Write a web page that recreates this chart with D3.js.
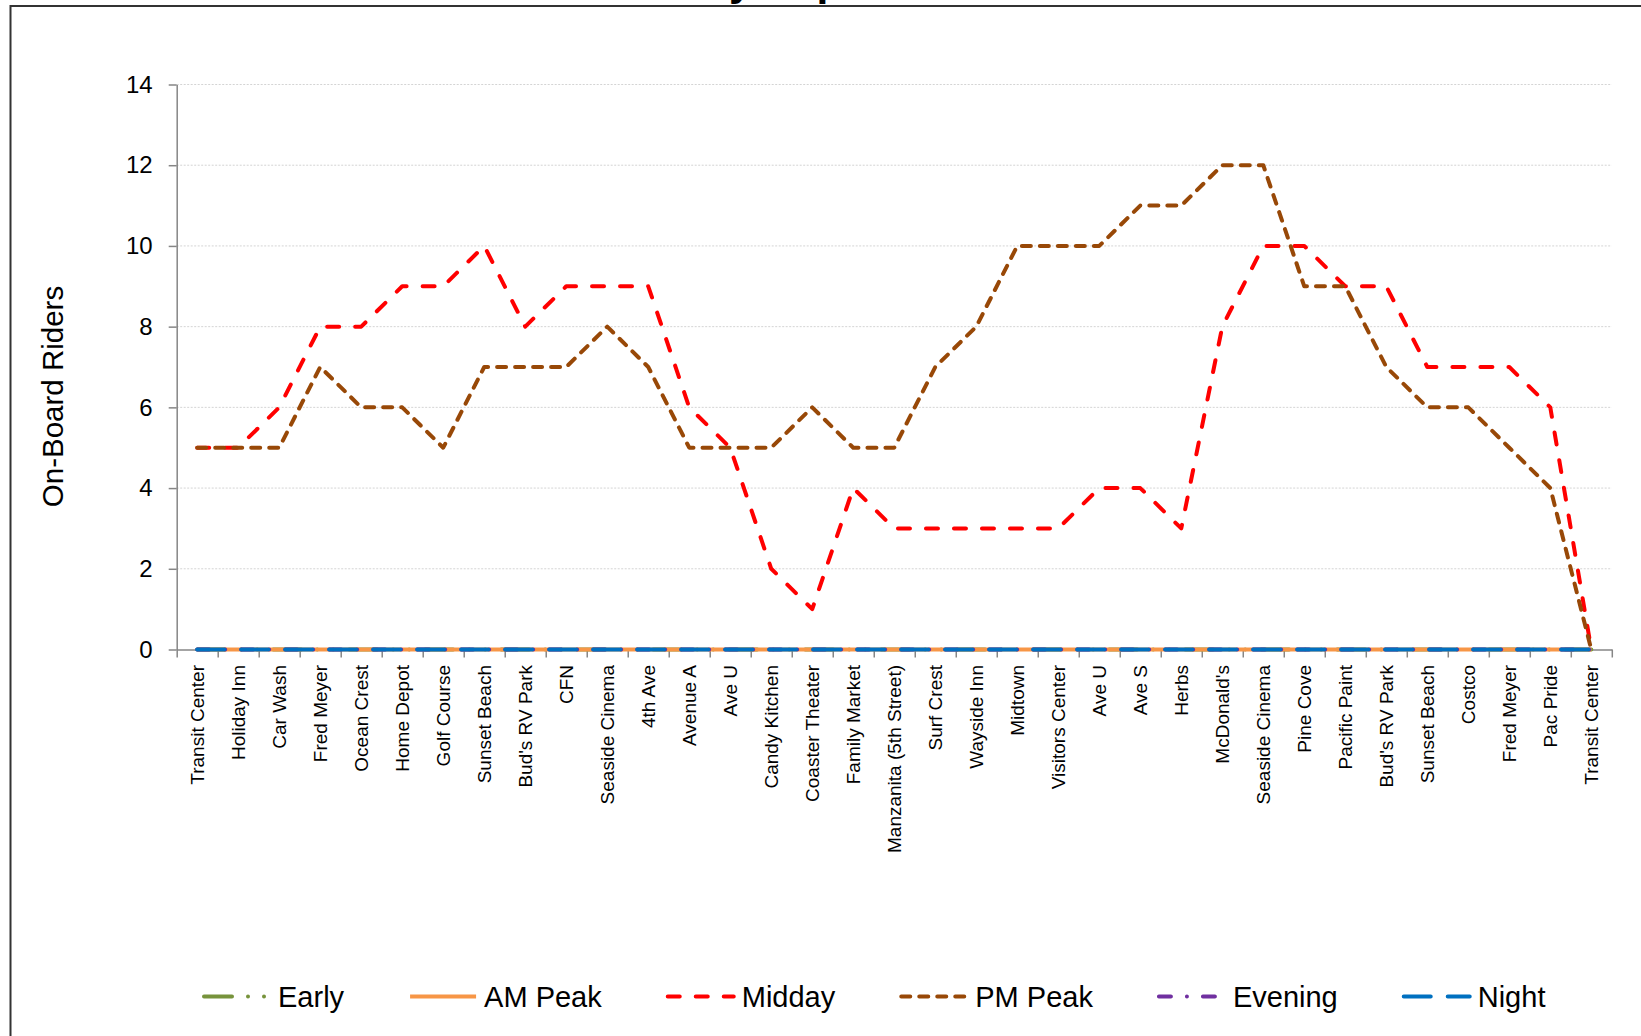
<!DOCTYPE html>
<html>
<head>
<meta charset="utf-8">
<script src="https://cdn.jsdelivr.net/npm/d3@7"></script>
<style>
  html, body { margin: 0; padding: 0; background: #fff; }
  svg { display: block; font-family: "Liberation Sans", Arial, sans-serif; }
</style>
</head>
<body>
<svg id="chart" width="1641" height="1036"></svg>
<script>
// ---------- data ----------
const titleText = "Weekday Trip Load";
const yLabel = "On-Board Riders";
const categories = [
  "Transit Center", "Holiday Inn", "Car Wash", "Fred Meyer", "Ocean Crest",
  "Home Depot", "Golf Course", "Sunset Beach", "Bud's RV Park", "CFN",
  "Seaside Cinema", "4th Ave", "Avenue A", "Ave U", "Candy Kitchen",
  "Coaster Theater", "Family Market", "Manzanita (5th Street)", "Surf Crest", "Wayside Inn",
  "Midtown", "Visitors Center", "Ave U", "Ave S", "Herbs",
  "McDonald's", "Seaside Cinema", "Pine Cove", "Pacific Paint", "Bud's RV Park",
  "Sunset Beach", "Costco", "Fred Meyer", "Pac Pride", "Transit Center"
];
const early   = [0,0,0,0,0, 0,0,0,0,0, 0,0,0,0,0, 0,0,0,0,0, 0,0,0,0,0, 0,0,0,0,0, 0,0,0,0,0];
const amPeak  = [0,0,0,0,0, 0,0,0,0,0, 0,0,0,0,0, 0,0,0,0,0, 0,0,0,0,0, 0,0,0,0,0, 0,0,0,0,0];
const midday  = [5,5,6,8,8, 9,9,10,8,9, 9,9,6,5,2, 1,4,3,3,3, 3,3,4,4,3, 8,10,10,9,9, 7,7,7,6,0];
const pmPeak  = [5,5,5,7,6, 6,5,7,7,7, 8,7,5,5,5, 6,5,5,7,8, 10,10,10,11,11, 12,12,9,9,7, 6,6,5,4,0];
const evening = [0,0,0,0,0, 0,0,0,0,0, 0,0,0,0,0, 0,0,0,0,0, 0,0,0,0,0, 0,0,0,0,0, 0,0,0,0,0];
const night   = [0,0,0,0,0, 0,0,0,0,0, 0,0,0,0,0, 0,0,0,0,0, 0,0,0,0,0, 0,0,0,0,0, 0,0,0,0,0];
const seriesNames = ["Early", "AM Peak", "Midday", "PM Peak", "Evening", "Night"];
const yTicks = [0, 2, 4, 6, 8, 10, 12, 14];

(function () {
// ---------- styles ----------
const seriesStyle = {
  "Early":   { color: "#77933C", dash: "28,16,0,16,0,16" },
  "AM Peak": { color: "#F79646", dash: null },
  "Midday":  { color: "#FF0000", dash: "12,16" },
  "PM Peak": { color: "#984807", dash: "9,9" },
  "Evening": { color: "#7030A0", dash: "12,16,0,16" },
  "Night":   { color: "#0070C0", dash: "27,17" }
};
const seriesData = [early, amPeak, midday, pmPeak, evening, night];

const svg = d3.select("#chart");
const pLeft = 176.7, pRight = 1611.8, pTop = 84.5, pBottom = 649.5;

// frame
svg.append("rect").attr("x", 10.5).attr("y", 6).attr("width", 1700).attr("height", 1100)
  .attr("fill", "none").attr("stroke", "#333").attr("stroke-width", 2);

// title (mostly cut off at top, as in reference)
const title = svg.append("text").text(titleText)
  .attr("font-weight", "bold").attr("font-size", 42.5).attr("y", -5.5).attr("fill", "#000");
{
  const idx = titleText.indexOf("y");
  const off = title.node().getSubStringLength(0, idx);
  title.attr("x", 729 - off);
}

const x = d3.scaleBand().domain(d3.range(categories.length)).range([pLeft, pRight]).padding(0);
const xLin = d3.scaleLinear().domain([0, categories.length]).range([pLeft, pRight]);
const y = d3.scaleLinear().domain([0, 14]).range([pBottom, pTop]);

// gridlines
svg.append("g").selectAll("line").data(yTicks.filter(t => t > 0)).join("line")
  .attr("x1", pLeft).attr("x2", pRight)
  .attr("y1", d => y(d)).attr("y2", d => y(d))
  .attr("stroke", "#d4d4d4").attr("stroke-width", 1).attr("stroke-dasharray", "2,1.5");

// y axis
const yAxis = svg.append("g").attr("transform", `translate(${pLeft},0)`)
  .call(d3.axisLeft(y).tickValues(yTicks).tickSize(8).tickSizeOuter(0).tickPadding(16));
yAxis.select(".domain").attr("stroke", "#868686").attr("stroke-width", 1.5);
yAxis.selectAll(".tick line").attr("stroke", "#868686").attr("stroke-width", 1.5);
yAxis.selectAll(".tick text").attr("font-size", 24).attr("fill", "#000")
  .attr("font-family", "Liberation Sans, Arial, sans-serif");

// x axis boundary ticks
const xTickAxis = svg.append("g").attr("transform", `translate(0,${pBottom})`)
  .call(d3.axisBottom(xLin).tickValues(d3.range(categories.length + 1)).tickFormat("").tickSize(8).tickSizeOuter(0));
xTickAxis.select(".domain").attr("stroke", "#868686").attr("stroke-width", 1.5);
xTickAxis.selectAll(".tick line").attr("stroke", "#868686").attr("stroke-width", 1.5);

// x labels
const xAxis = svg.append("g").attr("transform", `translate(0,${pBottom})`)
  .call(d3.axisBottom(x).tickFormat(i => categories[i]).tickSize(0).tickSizeOuter(0));
xAxis.select(".domain").remove();
xAxis.selectAll(".tick text")
  .attr("font-size", 19).attr("fill", "#000")
  .attr("font-family", "Liberation Sans, Arial, sans-serif")
  .attr("transform", "rotate(-90)")
  .attr("x", -15.5).attr("y", 0).attr("dy", "0.35em")
  .style("text-anchor", "end");

// y axis label
svg.append("text").text(yLabel)
  .attr("transform", "translate(62.5,396.5) rotate(-90)")
  .attr("text-anchor", "middle").attr("font-size", 29.5).attr("fill", "#000");

// series lines
const line = d3.line().x((d, i) => x(i) + x.bandwidth() / 2).y(d => y(d));
const gLines = svg.append("g");
seriesNames.forEach((name, k) => {
  const st = seriesStyle[name];
  gLines.append("path").datum(seriesData[k])
    .attr("d", line)
    .attr("fill", "none")
    .attr("stroke", st.color)
    .attr("stroke-width", 4)
    .attr("stroke-linecap", st.dash ? "round" : "butt")
    .attr("stroke-linejoin", "round")
    .attr("stroke-dasharray", st.dash);
});

// legend
const legend = svg.append("g");
let lx = 202;
const ly = 996.5;
seriesNames.forEach(name => {
  const st = seriesStyle[name];
  legend.append("line")
    .attr("x1", lx + 2).attr("x2", lx + 68).attr("y1", ly).attr("y2", ly)
    .attr("stroke", st.color).attr("stroke-width", 4)
    .attr("stroke-linecap", st.dash ? "round" : "butt")
    .attr("stroke-dasharray", st.dash);
  const t = legend.append("text").text(name)
    .attr("x", lx + 76).attr("y", ly).attr("dy", "0.35em")
    .attr("font-size", 29).attr("fill", "#000");
  lx = lx + 76 + t.node().getComputedTextLength() + 64;
});
})();
</script>
</body>
</html>
